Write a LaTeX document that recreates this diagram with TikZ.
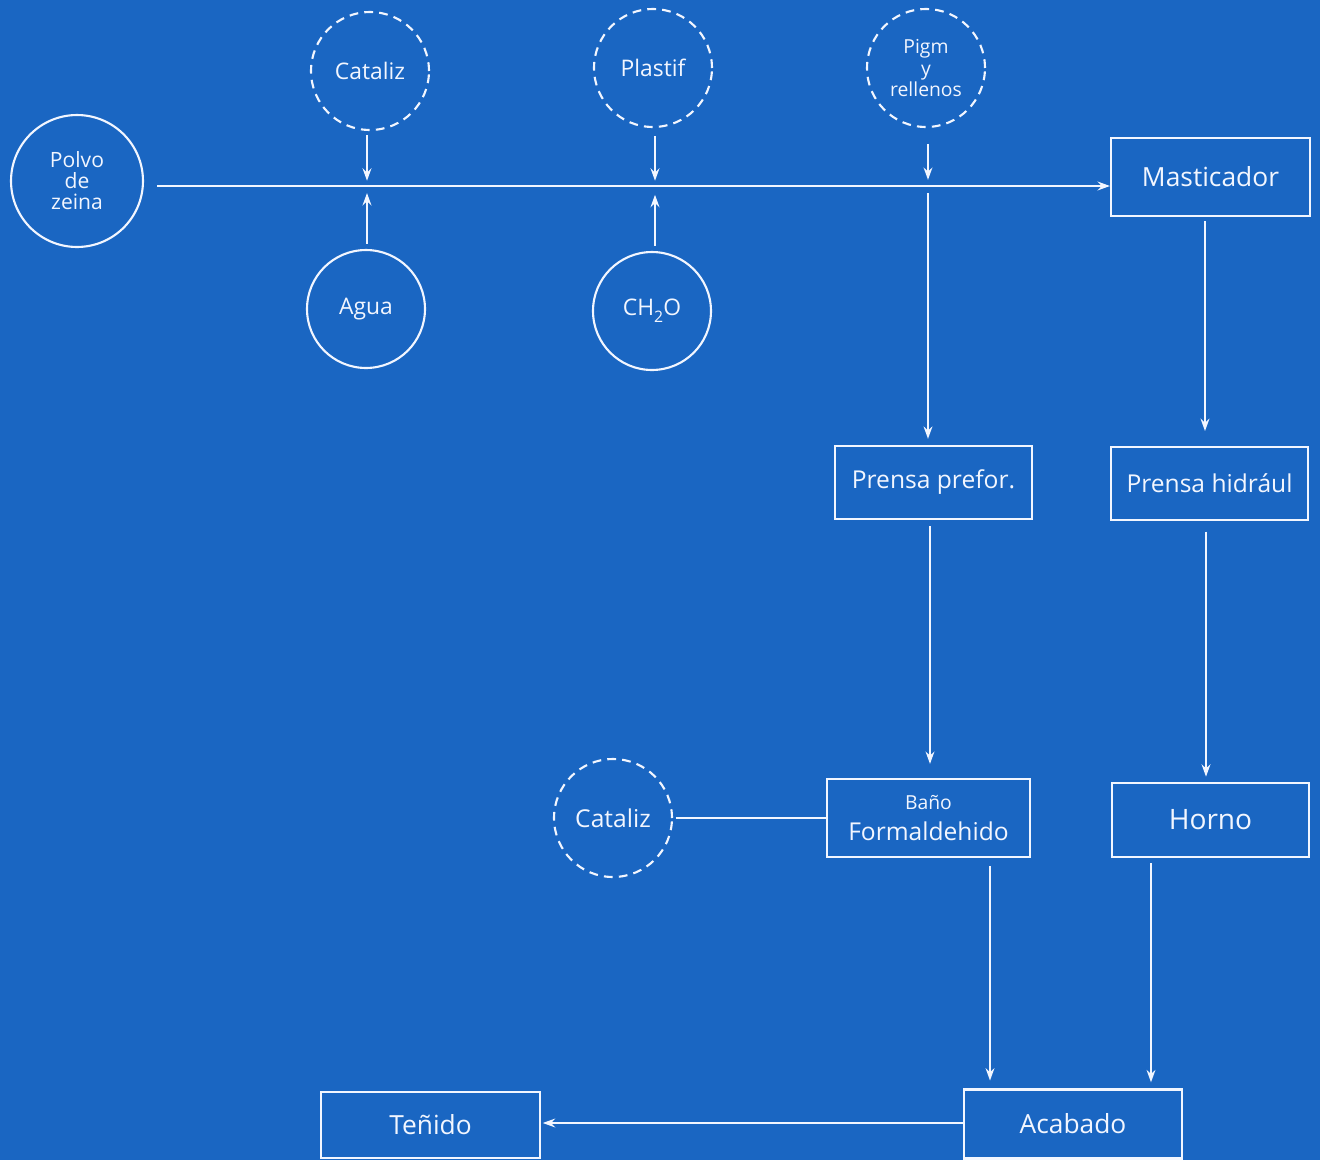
\documentclass[tikz,border=0pt]{standalone}
\usepackage{fontspec}
\setmainfont{Open Sans}
\usetikzlibrary{arrows.meta}
\definecolor{bp}{HTML}{1A66C2}
\definecolor{ink}{HTML}{F2F6FF}
\begin{document}
\begin{tikzpicture}[x=0.02cm,y=-0.02cm,
  line width=1.2pt,
  every node/.style={text=ink},
  inp/.style={circle, draw=ink, line width=1.2pt, minimum size=2.36cm, inner sep=0pt, align=center, font=\fontsize{13}{14}\selectfont},
  dinp/.style={inp, dash pattern=on 5pt off 3.5pt},
  box/.style={rectangle, draw=ink, line width=1.2pt, inner sep=0pt, align=center, font=\fontsize{14}{16}\selectfont},
  lnk/.style={draw=ink, line width=1.2pt},
  arr/.style={lnk, -{Stealth[length=7pt,width=5pt]}}]
\fill[bp] (0,0) rectangle (1320,1160);
\useasboundingbox (0,0) rectangle (1320,1160);

% input circles
\node[inp, minimum size=2.64cm, font=\fontsize{12}{14}\selectfont] (polvo) at (77,181) {Polvo\\[-2pt]de\\[-2pt]zeina};
\node[dinp] (cat1) at (370,71) {Cataliz};
\node[inp] (agua) at (366,309) {Agua};
\node[dinp] (plast) at (653,68) {Plastif};
\node[inp] (ch2o) at (652,311) {CH\raisebox{-0.6ex}{\fontsize{9}{9}\selectfont 2}O};
\node[dinp, font=\fontsize{11}{12.5}\selectfont] (pigm) at (926,68) {Pigm\\y\\rellenos};
\node[dinp, font=\fontsize{14}{16}\selectfont] (cat2) at (613,818) {Cataliz};

% boxes
\node[box, minimum width=3.98cm, minimum height=1.56cm, font=\fontsize{15}{16}\selectfont] (mast) at (1210.5,177) {Masticador};
\node[box, minimum width=3.94cm, minimum height=1.46cm] (prefor) at (933.5,482.5) {Prensa prefor.};
\node[box, minimum width=3.94cm, minimum height=1.46cm] (hidr) at (1209.5,483.5) {Prensa hidrául};
\node[box, minimum width=4.06cm, minimum height=1.56cm] (bano) at (928.5,818) {{\fontsize{11}{12}\selectfont Baño}\\[2pt]Formaldehido};
\node[box, minimum width=3.94cm, minimum height=1.48cm, font=\fontsize{16}{16}\selectfont] (horno) at (1210.5,820) {Horno};
\node[box, minimum width=4.36cm, minimum height=1.38cm, font=\fontsize{15}{16}\selectfont] (acab) at (1073,1124) {Acabado};
\node[box, minimum width=4.38cm, minimum height=1.32cm, font=\fontsize{15}{16}\selectfont] (teni) at (430.5,1125) {Teñido};

% main line
\coordinate (mstart) at (157,186);
\coordinate (j1) at (367,186);
\coordinate (j2) at (655,186);
\coordinate (j3) at (928,186);
\draw[arr] (mstart) -- (mstart -| mast.west);

% additions to main line
\draw[arr, shorten <=2.5pt, shorten >=3pt] (j1 |- cat1.south) -- (j1);
\draw[arr, shorten <=3pt, shorten >=4pt] (j1 |- agua.north) -- (j1);
\draw[arr, shorten <=4.5pt, shorten >=3pt] (j2 |- plast.south) -- (j2);
\draw[arr, shorten <=3pt, shorten >=5pt] (j2 |- ch2o.north) -- (j2);
\draw[arr, shorten <=9pt, shorten >=3.5pt] (j3 |- pigm.south) -- (j3);

% vertical flows
\draw[arr, shorten <=4pt, shorten >=3.5pt] (j3) -- (j3 |- prefor.north);
\coordinate (mx) at (1205,186);
\draw[arr, shorten <=2.5pt, shorten >=8.5pt] (mx |- mast.south) -- (mx |- hidr.north);
\coordinate (px) at (930,600);
\draw[arr, shorten <=3.5pt, shorten >=8pt] (px |- prefor.south) -- (px |- bano.north);
\coordinate (hx) at (1206,600);
\draw[arr, shorten <=6pt, shorten >=3pt] (hx |- hidr.south) -- (hx |- horno.north);
\coordinate (bx) at (990,950);
\draw[arr, shorten <=4.5pt, shorten >=4.5pt] (bx |- bano.south) -- (bx |- acab.north);
\coordinate (ox) at (1151,950);
\draw[arr, shorten <=3pt, shorten >=3.5pt] (ox |- horno.south) -- (ox |- acab.north);

% catalyst to bath
\draw[lnk, shorten <=1.5pt] (cat2.east) -- (bano.west);

% finishing to dyeing
\coordinate (ay) at (800,1123);
\draw[arr, shorten >=1pt] (ay -| acab.west) -- (ay -| teni.east);
\end{tikzpicture}
\end{document}
